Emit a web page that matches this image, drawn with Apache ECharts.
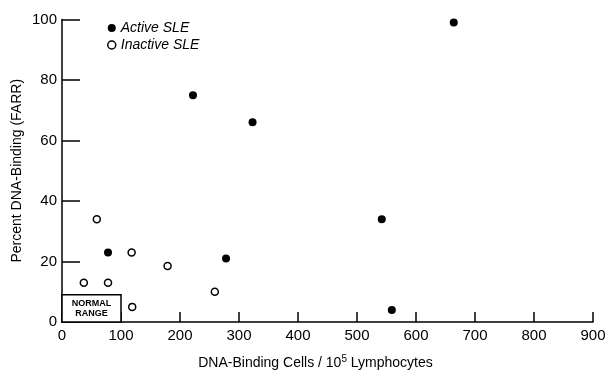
<!DOCTYPE html>
<html>
<head>
<meta charset="utf-8">
<script src="https://cdn.jsdelivr.net/npm/echarts@6/dist/echarts.min.js"></script>
<style>html,body{margin:0;padding:0;background:#fff}#c{width:607px;height:371px}</style>
</head>
<body>
<div id="c"></div>
<script>
var activeSLE = [[78,23],[222,75],[278,21],[323,66],[542,34],[559,4],[664,99]];
var inactiveSLE = [[37,13],[59,34],[78,13],[118,23],[119,5],[179,18.5],[259,10]];
var normalRange = [100, 9];
var xTicks = [0,100,200,300,400,500,600,700,800,900];
var yTicks = [0,20,40,60,80,100];

var font = 'Liberation Sans';
var chart = echarts.init(document.getElementById('c'), null, {renderer:'canvas'});
chart.setOption({
  animation: false,
  backgroundColor: '#fff',
  grid: {left: 62, top: 19.5, right: 14, bottom: 49, containLabel: false, outerBoundsMode: 'none'},
  legend: {
    orient: 'vertical', left: 102, top: 16, itemGap: 3,
    itemWidth: 8, itemHeight: 8, icon: 'circle',
    textStyle: {fontFamily: font, fontStyle: 'italic', fontSize: 14, color: '#000'},
    data: [
      {name: 'Active SLE', itemStyle: {color: '#000', opacity: 1}},
      {name: 'Inactive SLE', itemStyle: {color: '#fff', borderColor: '#000', borderWidth: 1.5, opacity: 1}}
    ]
  },
  xAxis: {
    type: 'value', min: xTicks[0], max: xTicks[xTicks.length-1], interval: 100,
    name: 'DNA-Binding Cells / 10{sup|5} Lymphocytes', nameLocation: 'middle', nameGap: 32,
    nameMoveOverlap: false,
    nameTextStyle: {fontFamily: font, fontSize: 14, color: '#000', padding: [0, 24, 0, 0],
      rich: {sup: {fontFamily: font, fontSize: 10, color:'#000', padding: [0,0,9,0]}}},
    axisLine: {lineStyle: {color: '#000', width: 1.5}},
    axisTick: {inside: true, length: 10, lineStyle: {color: '#000', width: 1.5}},
    axisLabel: {fontFamily: font, fontSize: 15, color: '#000', margin: 6},
    splitLine: {show: false}
  },
  yAxis: {
    type: 'value', min: yTicks[0], max: yTicks[yTicks.length-1], interval: 20,
    name: 'Percent DNA-Binding (FARR)', nameLocation: 'middle', nameGap: 38,
    nameMoveOverlap: false,
    nameTextStyle: {fontFamily: font, fontSize: 14, color: '#000'},
    axisLine: {lineStyle: {color: '#000', width: 1.5}},
    axisTick: {inside: true, length: 18, lineStyle: {color: '#000', width: 1.5}},
    axisLabel: {fontFamily: font, fontSize: 15, color: '#000', margin: 5},
    splitLine: {show: false}
  },
  series: [
    {
      name: 'Active SLE', type: 'scatter', data: activeSLE,
      symbol: 'circle', symbolSize: 8,
      itemStyle: {color: '#000', opacity: 1},
      markArea: {
        silent: true,
        itemStyle: {color: '#fff', borderColor: '#000', borderWidth: 1.5, opacity: 1},
        label: {show: true, position: 'inside', formatter: 'NORMAL\nRANGE', fontFamily: font, fontWeight: 'bold', fontSize: 9, color: '#000', lineHeight: 10},
        data: [[{coord: [0, 0]}, {coord: [normalRange[0], normalRange[1]]}]]
      },
      z: 3
    },
    {
      name: 'Inactive SLE', type: 'scatter', data: inactiveSLE,
      symbol: 'circle', symbolSize: 7,
      itemStyle: {color: '#fff', borderColor: '#000', borderWidth: 1.5, opacity: 1},
      z: 3
    }
  ]
});
</script>
</body>
</html>
